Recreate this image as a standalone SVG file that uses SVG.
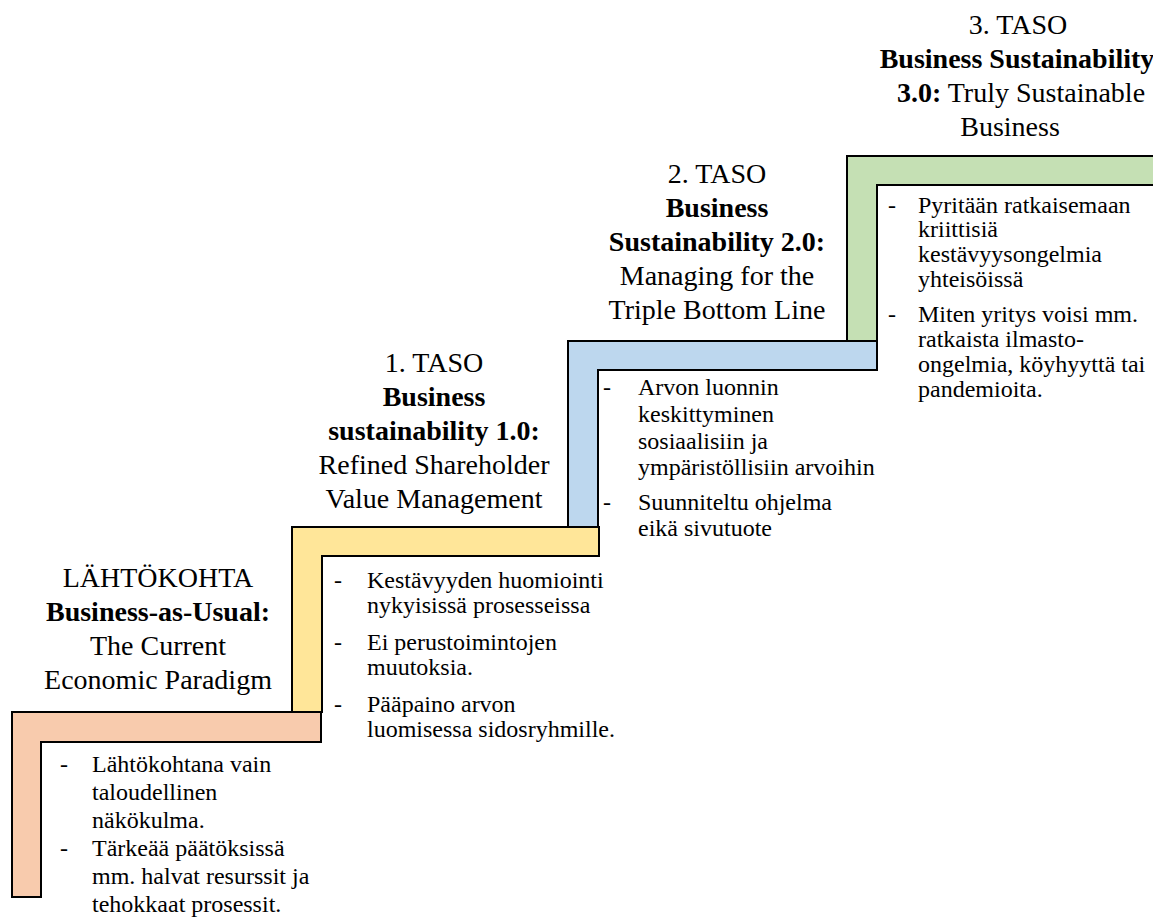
<svg xmlns="http://www.w3.org/2000/svg" width="1153" height="918" viewBox="0 0 1153 918">
<style>
.step{stroke:#000;stroke-width:2;stroke-linejoin:miter}
.h{font-family:"Liberation Serif","Times New Roman",serif;font-size:28px;fill:#000;text-anchor:middle}
.b{font-weight:bold}
.t{font-family:"Liberation Serif","Times New Roman",serif;font-size:24px;fill:#000}
</style>
<rect width="1153" height="918" fill="#fff"/>
<g id="step3">
<path class="step" fill="#C5E0B4" d="M847,156 H1160 V185 H877 V341 H847 Z"/>
</g>
<g id="step2">
<path class="step" fill="#BDD7EE" d="M568,341 H877 V370 H598 V527 H568 Z"/>
</g>
<g id="step1">
<path class="step" fill="#FFE699" d="M292,527 H599 V556 H322 V712 H292 Z"/>
</g>
<g id="step0">
<path class="step" fill="#F8CBAD" d="M12,712 H321 V742 H41 V897 H12 Z"/>
</g>
<g id="connectors"></g>
<g id="heading0">
<text class="h" x="158" y="587">LÄHTÖKOHTA</text>
<text class="h b" x="158" y="621">Business-as-Usual:</text>
<text class="h" x="158" y="655">The Current</text>
<text class="h" x="158" y="689">Economic Paradigm</text>
</g>
<g id="heading1">
<text class="h" x="434" y="372">1. TASO</text>
<text class="h b" x="434" y="406">Business</text>
<text class="h b" x="434" y="440">sustainability 1.0:</text>
<text class="h" x="434" y="474">Refined Shareholder</text>
<text class="h" x="434" y="508">Value Management</text>
</g>
<g id="heading2">
<text class="h" x="717" y="183">2. TASO</text>
<text class="h b" x="717" y="217">Business</text>
<text class="h b" x="717" y="251">Sustainability 2.0:</text>
<text class="h" x="717" y="285">Managing for the</text>
<text class="h" x="717" y="319">Triple Bottom Line</text>
</g>
<g id="heading3">
<text class="h" x="1018" y="34">3. TASO</text>
<text class="h b" x="1017" y="68" font-size="25.8">Business Sustainability</text>
<text class="h" x="1021" y="102" font-size="27">
<tspan font-weight="bold">3.0:</tspan> Truly Sustainable</text>
<text class="h" x="1010" y="136">Business</text>
</g>
<g id="bullets0">
<text class="t" x="60" y="772">-</text>
<text class="t" x="92" y="772">Lähtökohtana vain</text>
<text class="t" x="92" y="800">taloudellinen</text>
<text class="t" x="92" y="828">näkökulma.</text>
<text class="t" x="60" y="856">-</text>
<text class="t" x="92" y="856">Tärkeää päätöksissä</text>
<text class="t" x="92" y="884">mm. halvat resurssit ja</text>
<text class="t" x="92" y="912">tehokkaat prosessit.</text>
</g>
<g id="bullets1">
<text class="t" x="334" y="588">-</text>
<text class="t" x="367" y="588">Kestävyyden huomiointi</text>
<text class="t" x="367" y="613">nykyisissä prosesseissa</text>
<text class="t" x="334" y="650">-</text>
<text class="t" x="367" y="650">Ei perustoimintojen</text>
<text class="t" x="367" y="675">muutoksia.</text>
<text class="t" x="334" y="712">-</text>
<text class="t" x="367" y="712">Pääpaino arvon</text>
<text class="t" x="367" y="737">luomisessa sidosryhmille.</text>
</g>
<g id="bullets2">
<text class="t" x="603" y="395">-</text>
<text class="t" x="638" y="395">Arvon luonnin</text>
<text class="t" x="638" y="422">keskittyminen</text>
<text class="t" x="638" y="449">sosiaalisiin ja</text>
<text class="t" x="638" y="475">ympäristöllisiin arvoihin</text>
<text class="t" x="603" y="510">-</text>
<text class="t" x="638" y="510">Suunniteltu ohjelma</text>
<text class="t" x="638" y="536">eikä sivutuote</text>
</g>
<g id="bullets3">
<text class="t" x="888" y="213">-</text>
<text class="t" x="918" y="213">Pyritään ratkaisemaan</text>
<text class="t" x="918" y="237">kriittisiä</text>
<text class="t" x="918" y="262">kestävyysongelmia</text>
<text class="t" x="918" y="287">yhteisöissä</text>
<text class="t" x="888" y="322">-</text>
<text class="t" x="918" y="322">Miten yritys voisi mm.</text>
<text class="t" x="918" y="347">ratkaista ilmasto-</text>
<text class="t" x="918" y="372">ongelmia, köyhyyttä tai</text>
<text class="t" x="918" y="397">pandemioita.</text>
</g>
</svg>
